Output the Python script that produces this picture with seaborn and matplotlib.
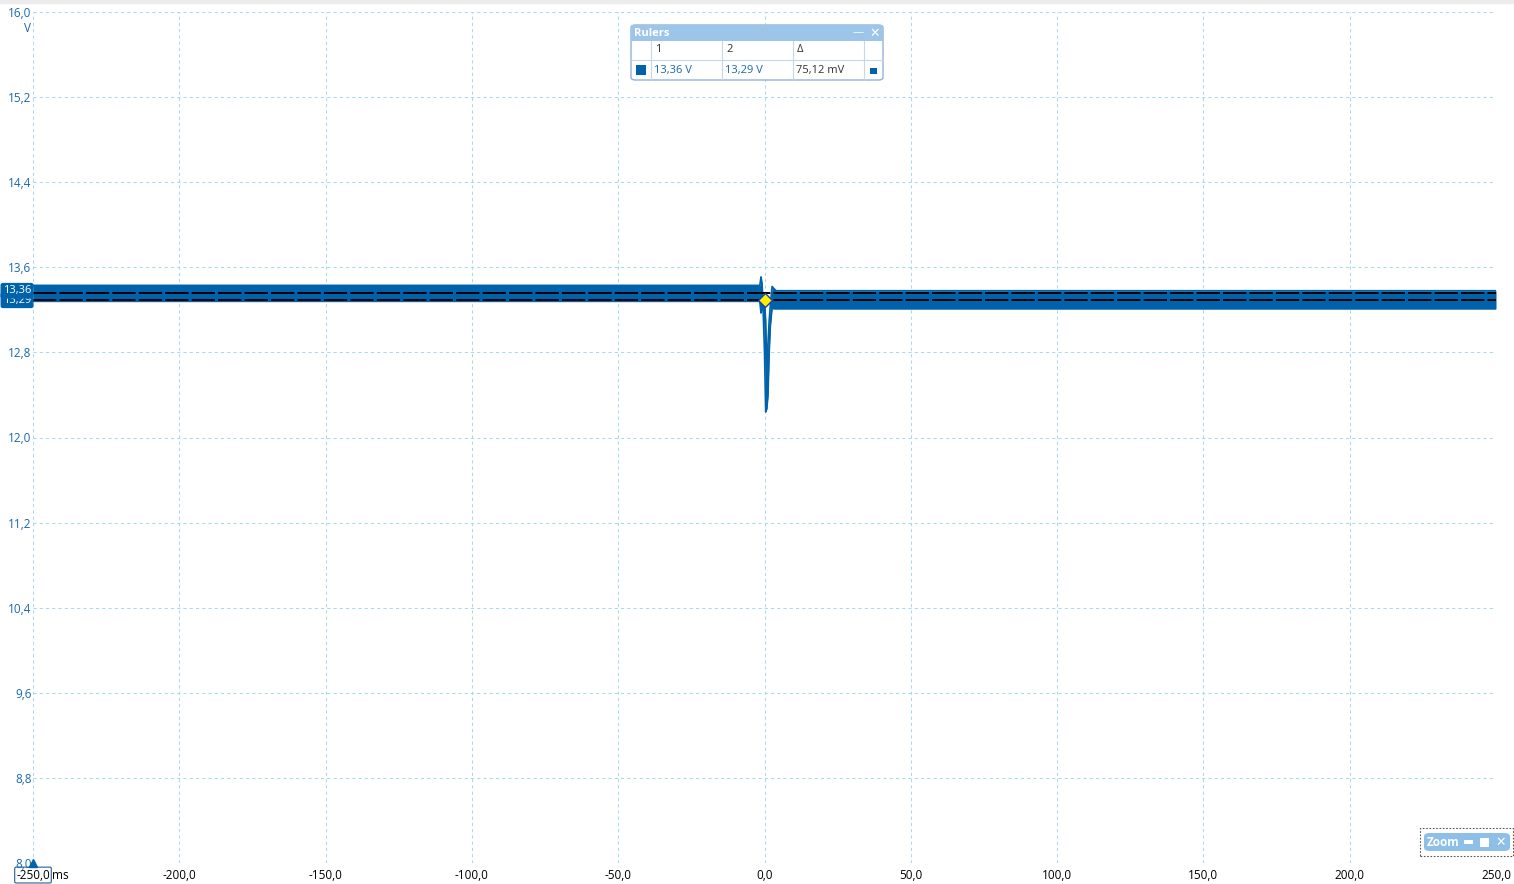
import numpy as np
import pandas as pd
import matplotlib
matplotlib.use("Agg")
import matplotlib.pyplot as plt
import seaborn as sns
from matplotlib.patches import Rectangle, FancyBboxPatch

# envelope of the captured voltage trace (ms, V)
time_ms = [-250, -1.6, -1.2, -0.9, -0.5, 0.0, 0.4, 0.8, 1.2, 1.6, 2.0, 2.6, 3.2, 4.0, 250]
upper_v = [13.43, 13.43, 13.51, 13.46, 13.30, 13.29, 13.10, 12.60, 12.90, 13.10, 13.25, 13.42, 13.40, 13.38, 13.38]
lower_v = [13.28, 13.28, 13.17, 13.22, 13.22, 12.80, 12.24, 12.27, 12.40, 12.80, 13.05, 13.22, 13.21, 13.21, 13.21]

# rulers
ruler_1 = 13.36
ruler_2 = 13.29
ruler_labels = ["13,36 V", "13,29 V", "75,12 mV"]

y_ticks = [8.0, 8.8, 9.6, 10.4, 11.2, 12.0, 12.8, 13.6, 14.4, 15.2, 16.0]
x_ticks = [-250, -200, -150, -100, -50, 0, 50, 100, 150, 200, 250]

TRACE = "#0062aa"
GRID = "#a9d9e8"
LABEL_BLUE = "#1b67ad"
PANEL = "#9dc5ea"


def fmt(v):
    return f"{v:.1f}".replace(".", ",")


def px(x, y):
    return x / 1514, 1 - y / 884


sns.set_theme(style="white")
plt.rcParams["font.family"] = ["Open Sans", "DejaVu Sans"]

df = pd.DataFrame({"t": time_ms, "hi": upper_v, "lo": lower_v})

fig = plt.figure(figsize=(15.14, 8.84), dpi=100)
ax = fig.add_axes([33 / 1514, 1 - 863 / 884, (1496 - 33) / 1514, (863 - 12) / 884])
fig.patches.append(Rectangle((0, 1 - 3 / 884), 1, 3 / 884, transform=fig.transFigure,
                             color="#ececec", zorder=0))

ax.fill_between(df["t"], df["lo"], df["hi"], color=TRACE, lw=0, zorder=3)
sns.lineplot(data=df, x="t", y="hi", color=TRACE, lw=1.2, ax=ax, zorder=3)
sns.lineplot(data=df, x="t", y="lo", color=TRACE, lw=1.2, ax=ax, zorder=3)

# ruler lines
for r in (ruler_1, ruler_2):
    ax.axhline(r, color="black", lw=1.4, linestyle=(0, (12, 1.6)), zorder=4)

# trigger marker
ax.plot([0], [ruler_2], marker="D", ms=7, mfc="#ffee00", mec="#1a3fa0", mew=1, zorder=6)

ax.set_xlim(-250, 250)
ax.set_ylim(8.0, 16.0)
ax.set_xticks(x_ticks)
ax.set_xticklabels([fmt(v) for v in x_ticks])
ax.set_yticks(y_ticks)
ax.set_yticklabels([fmt(v) for v in y_ticks])
ax.tick_params(axis="y", colors=LABEL_BLUE, labelsize=8.5, length=0, pad=1)
ax.tick_params(axis="x", colors="black", labelsize=8.5, length=0, pad=4)
ax.set_xlabel("")
ax.set_ylabel("")
for lab in ax.get_yticklabels():
    lab.set_color(LABEL_BLUE)
ax.grid(True, color=GRID, lw=0.75, linestyle=(0, (3, 3)))
for s in ax.spines.values():
    s.set_visible(False)

first = ax.get_xticklabels()[0]
first.set_bbox(dict(boxstyle="round,pad=0.12", fc="white", ec="#2a5d91", lw=0.8))
ax.annotate("ms", xy=(-250, 0), xycoords=("data", "axes fraction"), xytext=(14, -4),
            textcoords="offset points", ha="left", va="top", fontsize=8.5, color="black",
            annotation_clip=False)

# unit on y axis
fig.text(31 / 1514, 1 - 29 / 884, "V", ha="right", va="center", fontsize=8.5, color=LABEL_BLUE)

# channel tags on the left
for val, lab, dy, z in ((ruler_2, "13,29", 0, 7), (ruler_1, "13,36", 1.5, 8)):
    ax.annotate(lab, xy=(0, val), xycoords=("axes fraction", "data"), xytext=(-11.5, dy),
                textcoords="offset points", ha="center", va="center", fontsize=8,
                color="white", bbox=dict(boxstyle="round,pad=0.15", fc=TRACE, ec=TRACE),
                zorder=z, annotation_clip=False)

# trigger arrow at bottom left
ax.plot([-250], [8.0], marker="^", ms=6, color=TRACE, clip_on=False, zorder=8)

# rulers panel
x0, y0, x1, y1 = 631, 25, 883, 80
fig.patches.append(FancyBboxPatch(px(x0, y1), (x1 - x0) / 1514, (y1 - y0) / 884,
                                  boxstyle="round,pad=0,rounding_size=0.003",
                                  transform=fig.transFigure, fc="white", ec="#8fb3d6", lw=1))
fig.patches.append(Rectangle(px(x0, 41), (x1 - x0) / 1514, 16 / 884,
                             transform=fig.transFigure, fc=PANEL, ec="none"))
fig.text(*px(634, 33), "Rulers", color="white", fontsize=8, fontweight="bold", va="center")
fig.text(*px(858, 33), "—", color="white", fontsize=8, va="center", ha="center")
fig.text(*px(875, 33), "✕", color="white", fontsize=9, va="center", ha="center",
         family=["DejaVu Sans"])
for cx in (651, 722, 793, 864):
    fig.lines.append(plt.Line2D([cx / 1514] * 2, [1 - 41 / 884, 1 - 80 / 884],
                                transform=fig.transFigure, color="#c7d7e6", lw=0.8))
fig.lines.append(plt.Line2D([x0 / 1514, x1 / 1514], [1 - 60 / 884] * 2,
                            transform=fig.transFigure, color="#c7d7e6", lw=0.8))
for cx, head in ((655, "1"), (726, "2"), (797, "Δ")):
    fig.text(*px(cx, 50), head, fontsize=8, va="center", color="#333333")
fig.patches.append(Rectangle(px(636, 75), 10 / 1514, 10 / 884, transform=fig.transFigure,
                             fc=TRACE, ec="none"))
for cx, lab, col in zip((654, 725, 796), ruler_labels, (LABEL_BLUE, LABEL_BLUE, "#333333")):
    fig.text(*px(cx, 70), lab, fontsize=8, va="center", color=col)
fig.patches.append(Rectangle(px(870, 74), 7 / 1514, 6 / 884, transform=fig.transFigure,
                             fc=TRACE, ec="none"))

# zoom widget bottom right
fig.patches.append(Rectangle(px(1420, 856), 93 / 1514, 28 / 884, transform=fig.transFigure,
                             fc="white", ec="#555555", lw=0.8, linestyle=(0, (1.5, 1.5))))
fig.patches.append(FancyBboxPatch(px(1424, 851), 86 / 1514, 18 / 884,
                                  boxstyle="round,pad=0,rounding_size=0.004",
                                  transform=fig.transFigure, fc="#8ebfe9", ec="none"))
fig.text(*px(1427, 842), "Zoom", color="white", fontsize=8.5, fontweight="bold", va="center")
fig.patches.append(Rectangle(px(1464, 844), 9 / 1514, 4 / 884, transform=fig.transFigure,
                             fc="white", ec="none"))
fig.patches.append(Rectangle(px(1480, 847), 9 / 1514, 9 / 884, transform=fig.transFigure,
                             fc="white", ec="none"))
fig.text(*px(1501, 842), "✕", color="white", fontsize=9, va="center", ha="center",
         family=["DejaVu Sans"])

fig.savefig("out.png", dpi=100)
